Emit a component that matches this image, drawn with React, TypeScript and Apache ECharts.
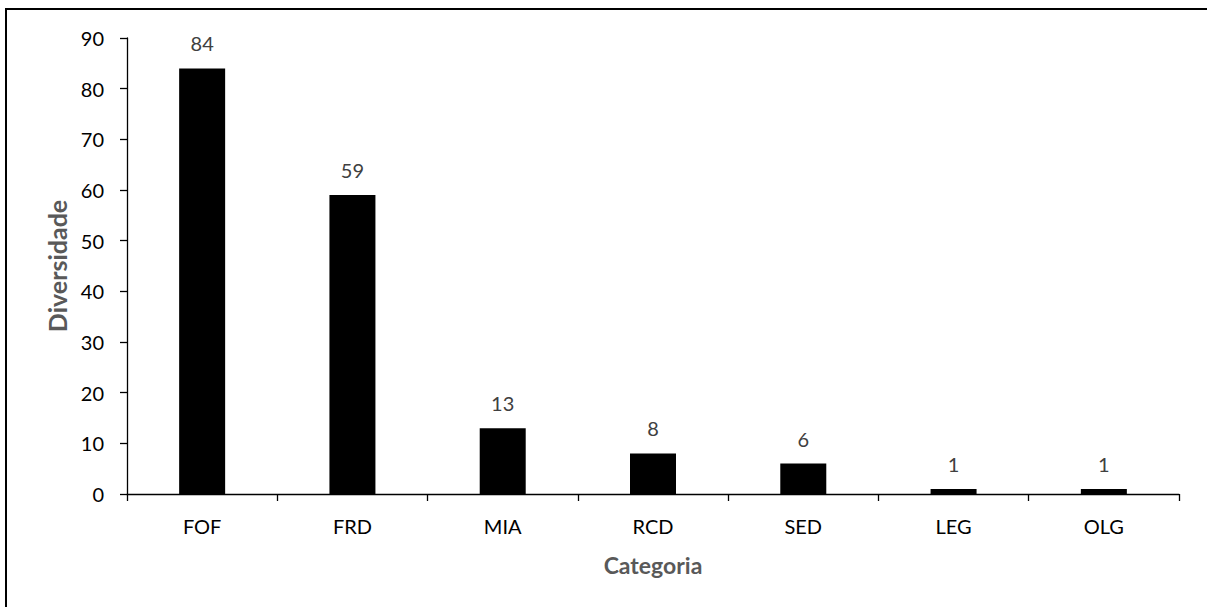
import React, { useEffect, useRef } from "react";
import * as echarts from "echarts";

const categories = ["FOF", "FRD", "MIA", "RCD", "SED", "LEG", "OLG"];
const values = [84, 59, 13, 8, 6, 1, 1];
const yTicks = { min: 0, max: 90, interval: 10 };

const FONT = "Lato, 'Open Sans', sans-serif";

export default function App() {
  const ref = useRef<HTMLDivElement>(null);
  useEffect(() => {
    document.body.style.margin = "0";
    const chart = echarts.init(ref.current!, null, { renderer: "svg" });
    chart.setOption({
      animation: false,
      backgroundColor: "#ffffff",
      textStyle: { fontFamily: FONT },
      graphic: [
        {
          type: "rect",
          shape: { x: 6, y: 9, width: 1220, height: 620 },
          style: { fill: "none", stroke: "#000", lineWidth: 2 },
          silent: true,
        },
      ],
      grid: { left: 127, top: 38, right: 28, bottom: 113, containLabel: false },
      xAxis: {
        type: "category",
        data: categories,
        name: "Categoria",
        nameLocation: "middle",
        nameGap: 59,
        nameTextStyle: { fontFamily: FONT, fontSize: 23, fontWeight: "bold", color: "#595959" },
        axisLine: { lineStyle: { color: "#000", width: 1.3 } },
        axisTick: { show: true, alignWithLabel: false, length: 7, lineStyle: { color: "#000", width: 1.3 } },
        axisLabel: { fontFamily: FONT, fontSize: 20, color: "#000", margin: 22 },
      },
      yAxis: {
        type: "value",
        min: yTicks.min,
        max: yTicks.max,
        interval: yTicks.interval,
        name: "Diversidade",
        nameLocation: "middle",
        nameGap: 56,
        nameRotate: 90,
        nameTextStyle: { fontFamily: FONT, fontSize: 25, fontWeight: "bold", color: "#595959" },
        axisLine: { show: true, lineStyle: { color: "#000", width: 1.3 } },
        axisTick: { show: true, length: 7, lineStyle: { color: "#000", width: 1.3 } },
        axisLabel: { fontFamily: FONT, fontSize: 20, color: "#000", margin: 23 },
        splitLine: { show: false },
      },
      series: [
        {
          type: "bar",
          data: values,
          barWidth: 46,
          itemStyle: { color: "#000" },
          label: {
            show: true,
            position: "top",
            distance: 15,
            fontFamily: FONT,
            fontSize: 20,
            color: "#404040",
          },
        },
      ],
    });
    return () => chart.dispose();
  }, []);
  return <div ref={ref} style={{ width: 1207, height: 607 }} />;
}
